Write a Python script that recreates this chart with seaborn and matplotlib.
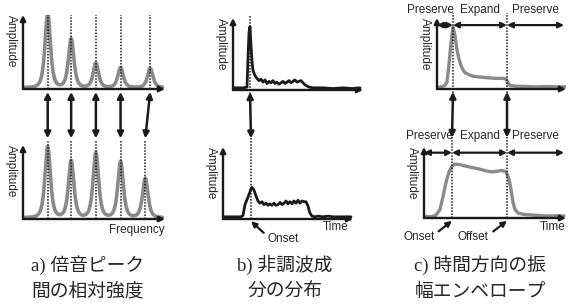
"""
Three-panel diagram: harmonic peak amplitudes, inharmonic energy distribution,
temporal amplitude envelope (preserve / expand / preserve).
Output: out.png (568x304)
"""

import numpy as np
import matplotlib.pyplot as plt
from matplotlib.patches import ConnectionPatch
import seaborn as sns

# ── data ────────────────────────────────────────────────────────────────────
# a) harmonic peaks (frequency in units of the fundamental, relative amplitude)
peak_freq_top = [1.0, 1.95, 2.95, 3.95, 5.15]
peak_amp_top  = [1.0, 0.66, 0.33, 0.27, 0.26]
peak_freq_bot = [1.0, 1.95, 2.95, 3.95, 4.95]
peak_amp_bot  = [0.96, 0.77, 0.88, 0.76, 0.53]

# b) inharmonic component, time vs amplitude
inh_t_top = [0, 5, 10, 14, 15, 16, 17, 18, 19, 20, 22, 24, 26, 28, 30, 32, 34,
             36, 38, 40, 42, 44, 46, 48, 50, 52, 54, 56, 58, 60, 62, 64, 66,
             68, 70, 72, 76, 80, 90, 100, 110, 120, 127]
inh_a_top = [0.03, 0.03, 0.03, 0.04, 0.45, 0.80, 0.88, 0.62, 0.40, 0.27, 0.20,
             0.16, 0.13, 0.15, 0.11, 0.14, 0.09, 0.12, 0.10, 0.13, 0.09, 0.11,
             0.08, 0.10, 0.12, 0.09, 0.11, 0.13, 0.10, 0.12, 0.14, 0.11, 0.12,
             0.13, 0.10, 0.07, 0.04, 0.03, 0.03, 0.02, 0.03, 0.02, 0.03]
inh_t_bot = [0, 10, 18, 20, 22, 24, 26, 28, 29, 31, 33, 35, 37, 39, 41, 43, 45,
             47, 49, 51, 53, 55, 57, 59, 61, 63, 65, 67, 69, 71, 73, 75, 77,
             79, 81, 83, 85, 87, 89, 92, 95, 100, 105, 110, 120, 128]
inh_a_bot = [0.03, 0.03, 0.03, 0.05, 0.20, 0.27, 0.34, 0.42, 0.44, 0.40, 0.32,
             0.25, 0.22, 0.24, 0.20, 0.22, 0.19, 0.21, 0.19, 0.22, 0.19, 0.20,
             0.23, 0.20, 0.22, 0.25, 0.21, 0.24, 0.21, 0.25, 0.22, 0.26, 0.22,
             0.25, 0.24, 0.24, 0.18, 0.08, 0.04, 0.03, 0.04, 0.03, 0.04, 0.03,
             0.03, 0.03]
onset_b = [17, 28]

# c) amplitude envelope
env_t_top = [0, 4, 8, 10, 12, 14, 16, 18, 20, 22, 24, 26, 28, 32, 36, 42, 50,
             58, 66, 69, 71, 73, 78, 90, 100, 110, 120, 129]
env_a_top = [0.02, 0.03, 0.05, 0.10, 0.35, 0.65, 0.87, 0.75, 0.55, 0.42, 0.33,
             0.27, 0.23, 0.20, 0.18, 0.17, 0.16, 0.15, 0.15, 0.14, 0.09, 0.05,
             0.04, 0.035, 0.03, 0.035, 0.03, 0.03]
env_t_bot = [0, 8, 12, 16, 19, 22, 25, 28, 31, 36, 45, 55, 63, 68, 74, 78, 82,
             85, 87, 89, 91, 94, 100, 110, 120, 130, 140]
env_a_bot = [0.02, 0.02, 0.04, 0.12, 0.30, 0.50, 0.65, 0.73, 0.76, 0.75, 0.72,
             0.69, 0.66, 0.65, 0.66, 0.67, 0.65, 0.55, 0.40, 0.22, 0.12, 0.07,
             0.05, 0.04, 0.03, 0.03, 0.03]
marks_c_top = [16, 70]
marks_c_bot = [28, 83]
segments = ["Preserve", "Expand", "Preserve"]

captions = [("a) 倍音ピーク", "間の相対強度"),
            ("b) 非調波成", "分の分布"),
            ("c) 時間方向の振", "幅エンベロープ")]

# ── stil ────────────────────────────────────────────────────────────────────
sns.set_theme(style="white")
plt.rcParams["font.family"] = ["Liberation Sans", "Noto Sans CJK JP"]
W, H = 568, 304
GRAY = "#8a8a8a"
LBL = 8.5

fig = plt.figure(figsize=(W / 100, H / 100), dpi=100, facecolor="white")


def px_axes(x0, top, x1, base, xmax):
    ax = fig.add_axes([x0 / W, 1 - base / H, (x1 - x0) / W, (base - top) / H])
    ax.set_xlim(0, xmax)
    ax.set_ylim(0, 1)
    ax.axis("off")
    arr = dict(arrowstyle="-|>", lw=1.7, color="k", shrinkA=0, shrinkB=0,
               mutation_scale=8)
    ax.annotate("", xy=(1, 0), xytext=(0, 0), xycoords="axes fraction",
                arrowprops=arr, annotation_clip=False)
    ax.annotate("", xy=(0, 1), xytext=(0, 0), xycoords="axes fraction",
                arrowprops=arr, annotation_clip=False)
    ax.annotate("Amplitude", xy=(0, 1), xycoords="axes fraction",
                xytext=(-4, 0), textcoords="offset points", rotation=270,
                ha="right", va="top", fontsize=LBL)
    return ax


def connect(ax_a, xa, ya, ax_b, xb, yb):
    con = ConnectionPatch(xyA=(xa, ya), coordsA="data", axesA=ax_a,
                          xyB=(xb, yb), coordsB="data", axesB=ax_b,
                          arrowstyle="<|-|>", lw=1.8, color="k",
                          mutation_scale=9, shrinkA=0, shrinkB=0, zorder=5)
    con.set_annotation_clip(False)
    fig.add_artist(con)


def dotted(ax, x, lo, hi):
    ax.plot([x, x], [lo, hi], color="k", lw=1.1, ls=(0, (1, 1)),
            clip_on=False, zorder=4)


def spectrum(ax, freqs, amps, xmax):
    # peak shape only renders the read-off peak heights
    f = np.linspace(0.05, xmax - 0.1, 800)
    g = 0.2
    a = 0.02 + sum(h / (1 + ((f - fk) / g) ** 2) ** 2
                   for fk, h in zip(freqs, amps))
    sns.lineplot(x=f, y=a, ax=ax, color=GRAY, lw=2.6)


# ── a) ──────────────────────────────────────────────────────────────────────
FMAX = 142 / 24.7
ax_at = px_axes(23, 15, 165, 89, FMAX)
ax_ab = px_axes(23, 145, 165, 219, FMAX)
spectrum(ax_at, peak_freq_top, peak_amp_top, FMAX)
spectrum(ax_ab, peak_freq_bot, peak_amp_bot, FMAX)
for ft, fb in zip(peak_freq_top, peak_freq_bot):
    dotted(ax_at, ft, 0, 1.0)
    dotted(ax_ab, fb, 0, 1.05)
    connect(ax_at, ft, -0.04, ax_ab, fb, 1.09)
ax_ab.annotate("Frequency", xy=(1, 0), xycoords="axes fraction",
               xytext=(0, -8), textcoords="offset points",
               ha="right", va="center", fontsize=LBL)

# ── b) ──────────────────────────────────────────────────────────────────────
ax_bt = px_axes(233, 18, 363, 90, 130)
ax_bb = px_axes(223, 147, 353, 219, 130)
sns.lineplot(x=inh_t_top, y=inh_a_top, ax=ax_bt, color="k", lw=2.0)
sns.lineplot(x=inh_t_bot, y=inh_a_bot, ax=ax_bb, color="k", lw=2.0)
dotted(ax_bt, onset_b[0], -0.05, 1.04)
dotted(ax_bb, onset_b[1], 0, 1.2)
connect(ax_bt, onset_b[0], -0.03, ax_bb, onset_b[1], 1.12)
ax_bb.annotate("Time", xy=(1, 0), xycoords="axes fraction",
               xytext=(-3, -6), textcoords="offset points",
               ha="right", va="center", fontsize=LBL)
ax_bb.annotate("Onset", xy=(onset_b[1], -0.03), xytext=(45, -0.28),
               ha="left", va="center", fontsize=LBL, annotation_clip=False,
               arrowprops=dict(arrowstyle="-|>", lw=1.6, color="k",
                               mutation_scale=8, relpos=(0, 0.7),
                               shrinkA=1, shrinkB=0))

# ── c) ──────────────────────────────────────────────────────────────────────
ax_ct = px_axes(437, 18, 566, 89, 129)
ax_cb = px_axes(424, 147, 566, 218, 142)
sns.lineplot(x=env_t_top, y=env_a_top, ax=ax_ct, color=GRAY, lw=2.4)
sns.lineplot(x=env_t_bot, y=env_a_bot, ax=ax_cb, color=GRAY, lw=2.4)
for mt, mb in zip(marks_c_top, marks_c_bot):
    dotted(ax_ct, mt, -0.05, 1.07)
    dotted(ax_cb, mb, 0, 1.2)
    connect(ax_ct, mt, -0.04, ax_cb, mb, 1.13)


def segment_row(ax, marks, xmax, y_arrow, y_text):
    edges = [0] + list(marks) + [xmax - 2]
    arr = dict(arrowstyle="<|-|>", lw=1.6, color="k", mutation_scale=8,
               shrinkA=0, shrinkB=0)
    for i, name in enumerate(segments):
        ax.annotate("", xy=(edges[i + 1], y_arrow), xytext=(edges[i], y_arrow),
                    arrowprops=arr, annotation_clip=False)
        if i == 0:
            ax.text(edges[1] + 1, y_text, name, ha="right", va="center",
                    fontsize=LBL, clip_on=False)
        else:
            ax.text((edges[i] + edges[i + 1]) / 2, y_text, name,
                    ha="center", va="center", fontsize=LBL, clip_on=False)


segment_row(ax_ct, marks_c_top, 129, 0.90, 1.11)
segment_row(ax_cb, marks_c_bot, 142, 0.92, 1.15)

ax_cb.annotate("Time", xy=(1, 0), xycoords="axes fraction",
               xytext=(0, -6.5), textcoords="offset points",
               ha="right", va="center", fontsize=LBL)
for name, x_txt, mark in [("Onset", -21, marks_c_bot[0]),
                          ("Offset", 34, marks_c_bot[1])]:
    ax_cb.annotate(name, xy=(mark, -0.04), xytext=(x_txt, -0.27),
                   ha="left", va="center", fontsize=LBL, annotation_clip=False,
                   arrowprops=dict(arrowstyle="-|>", lw=1.6, color="k",
                                   mutation_scale=8, relpos=(1, 0.7),
                                   shrinkA=1, shrinkB=0))

# ── captions ────────────────────────────────────────────────────────────────
cap_font = ["Liberation Serif", "Noto Sans CJK JP"]
for (l1, l2), xc in zip(captions, [88, 285, 480]):
    fig.text(xc / W, 1 - 265 / H, l1, ha="center", va="center",
             fontsize=13.5, family=cap_font)
    fig.text(xc / W, 1 - 292 / H, l2, ha="center", va="center",
             fontsize=13.5, family=cap_font)

fig.savefig("out.png", dpi=100)
plt.close(fig)
